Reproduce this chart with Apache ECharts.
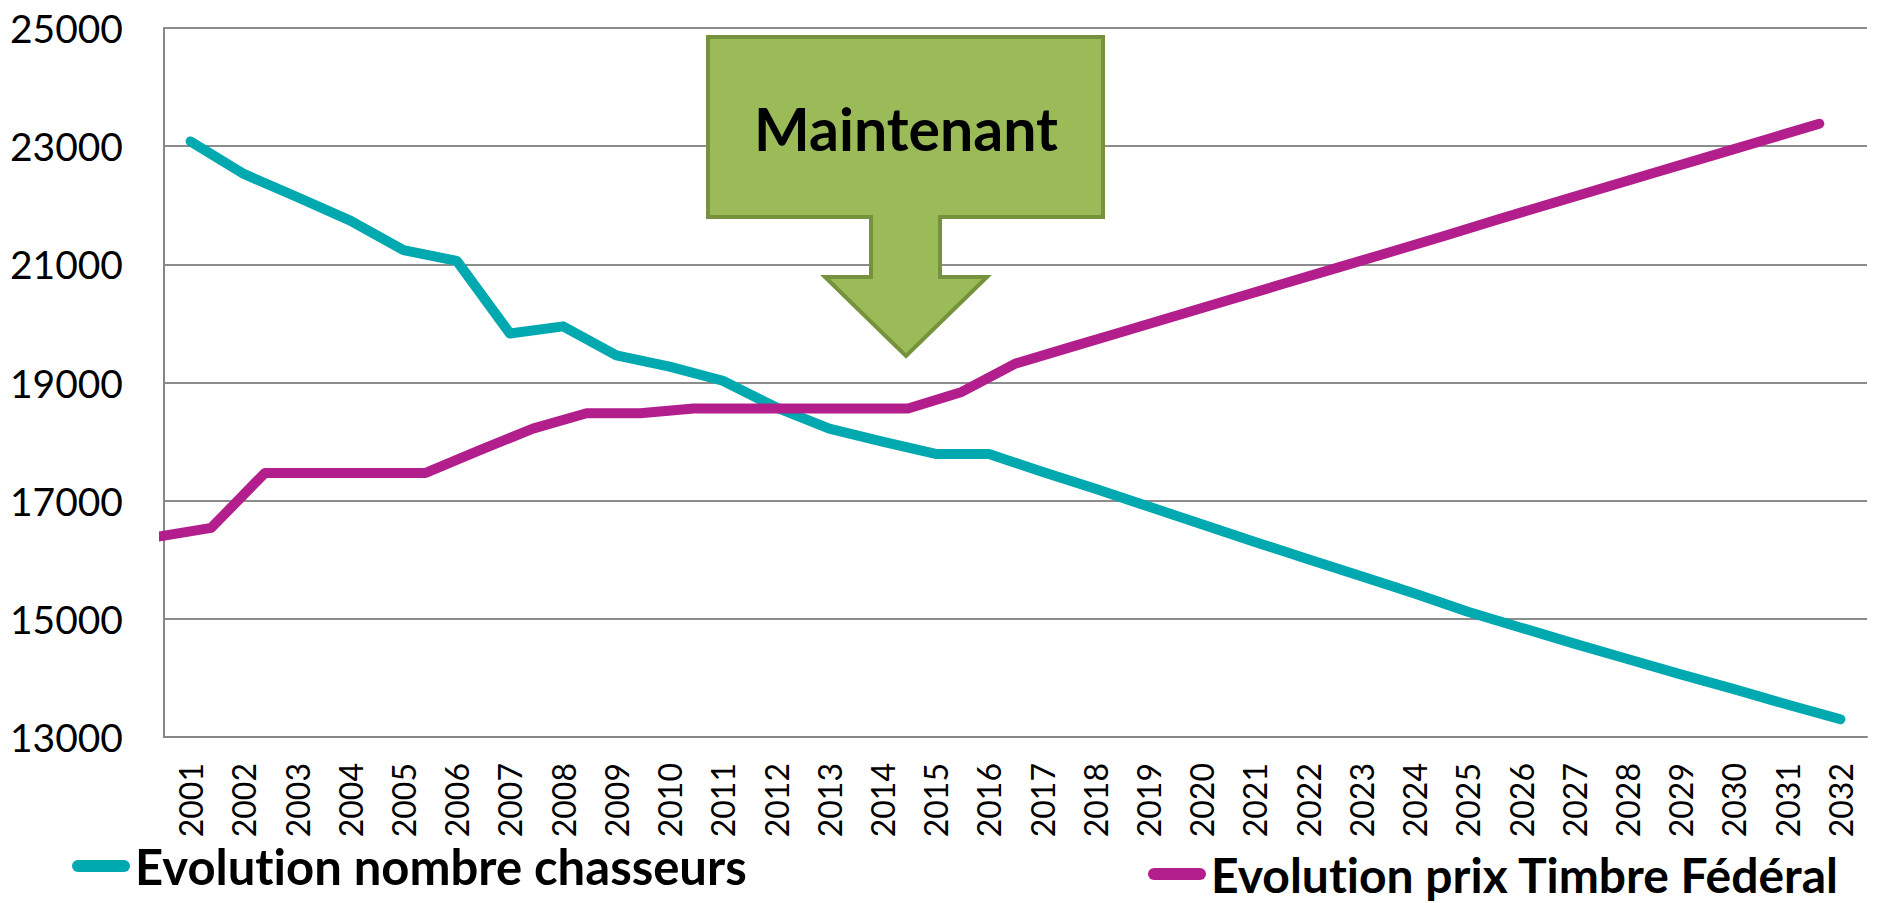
<!DOCTYPE html>
<html>
<head>
<meta charset="utf-8">
<script src="https://cdn.jsdelivr.net/npm/echarts@6/dist/echarts.min.js"></script>
<style>
html,body{margin:0;padding:0;background:#fff;}
#chart{width:1879px;height:903px;font-variant-ligatures:none;}
#chart text{font-variant-ligatures:none;}
</style>
</head>
<body>
<div id="chart"></div>
<script>
const years = ['2001','2002','2003','2004','2005','2006','2007','2008','2009','2010','2011','2012','2013','2014','2015','2016','2017','2018','2019','2020','2021','2022','2023','2024','2025','2026','2027','2028','2029','2030','2031','2032'];
const chasseurs = [23080,22530,22140,21740,21240,21060,19830,19950,19460,19270,19030,18580,18220,18000,17790,17790,17490,17200,16900,16600,16300,16010,15720,15430,15120,14850,14580,14320,14060,13810,13550,13300];
const timbre = [16390,16540,17470,17470,17470,17470,17850,18220,18480,18480,18560,18560,18560,18560,18560,18840,19320,19590,19860,20130,20400,20670,20940,21210,21480,21760,22030,22300,22570,22840,23110,23380];
const seriesNames = ['Evolution nombre chasseurs','Evolution prix Timbre Fédéral'];
const yMin = 13000, yMax = 25000, yStep = 2000;
const annotation = 'Maintenant';

const FONT = 'Lato, "Open Sans", sans-serif';
const chart = echarts.init(document.getElementById('chart'), null, {renderer:'svg'});
const capsule = 'path://M6,0 H52 A6,6 0 0 1 52,12 H6 A6,6 0 0 1 6,0 Z';

chart.setOption({
  animation:false,
  backgroundColor:'#ffffff',
  grid:{left:164, right:12, top:28, bottom:166, containLabel:false, outerBoundsMode:'none'},
  legend:[
    {data:[seriesNames[0]], left:72, top:841, padding:0, icon:capsule, itemWidth:58, itemHeight:12, itemGap:5,
     textStyle:{fontFamily:FONT, fontWeight:'bold', fontSize:49, color:'#000', lineHeight:50}},
    {data:[seriesNames[1]], left:1148, top:849, padding:0, icon:capsule, itemWidth:58, itemHeight:12, itemGap:5,
     textStyle:{fontFamily:FONT, fontWeight:'bold', fontSize:48, color:'#000', lineHeight:50}}
  ],
  xAxis:[
    {type:'category', data:years, boundaryGap:true,
     axisLine:{show:true, lineStyle:{color:'#868686', width:2}},
     axisTick:{show:false},
     axisLabel:{interval:0, rotate:90, margin:26, fontFamily:FONT, fontSize:32, color:'#000'},
     splitLine:{show:false}},
    {type:'value', show:false, min:0.1175, max:31.89, splitLine:{show:false}}
  ],
  yAxis:{type:'value', min:yMin, max:yMax, interval:yStep,
     axisLine:{show:true, lineStyle:{color:'#868686', width:2}},
     axisTick:{show:false},
     axisLabel:{margin:41, fontFamily:FONT, fontSize:39, color:'#000', formatter:(v)=>String(v)},
     splitLine:{show:true, lineStyle:{color:'#8c8c8c', width:2}}},
  series:[
    {name:seriesNames[0], type:'line', xAxisIndex:0, data:chasseurs, showSymbol:false, symbol:'none',
     itemStyle:{color:'#00A8B0'},
     lineStyle:{color:'#00A8B0', width:10, cap:'round', join:'round'}},
    {name:seriesNames[1], type:'line', xAxisIndex:1, clip:false, data:timbre.map((v,i)=>[i,v]), showSymbol:false, symbol:'none',
     itemStyle:{color:'#B31E8D'},
     lineStyle:{color:'#B31E8D', width:10, cap:'round', join:'round'}}
  ],
  graphic:[
    {type:'polygon', z:100,
     shape:{points:[[708,37],[1103,37],[1103,217],[940,217],[940,277],[987,277],[906,356],[825,277],[871,277],[871,217],[708,217]]},
     style:{fill:'#9BBB59', stroke:'#76923C', lineWidth:4, lineJoin:'miter'}},
    {type:'text', z:101, x:906, y:128,
     style:{text:annotation, fontFamily:FONT, fontWeight:'bold', fontSize:59, fill:'#000', align:'center', verticalAlign:'middle'}}
  ]
});
</script>
</body>
</html>
